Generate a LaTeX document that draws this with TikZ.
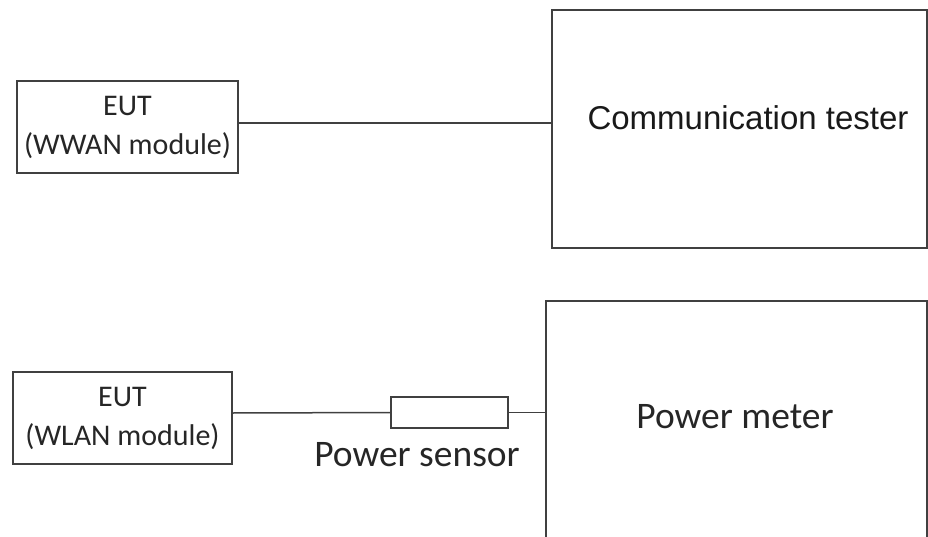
\documentclass[tikz,border=0pt]{standalone}
\usepackage{fontspec}
\setmainfont{Carlito}
\newfontfamily\testerfont{Liberation Sans}
\usepackage{tikz}

\begin{document}
\begin{tikzpicture}[x=1pt,y=-1pt,
  box/.style={draw=black!75,line width=1.8pt,inner sep=0pt},
  wire/.style={draw=black!75,line width=1.5pt},
  small/.style={font=\fontsize{30}{39}\selectfont,align=center,text=black!85},
  large/.style={font=\fontsize{37.5}{44}\selectfont,text=black!85},
  arial/.style={font=\testerfont\fontsize{33}{38}\selectfont,text=black!90}]
\useasboundingbox (0,0) rectangle (928,537);

\node[box,minimum width=221,minimum height=92,small] (eutwwan) at (127.5,127) {EUT\\(WWAN module)};
\node[box,minimum width=375,minimum height=238] (tester) at (739.5,129) {};
\node[arial] (testerlbl) at (748,118) {Communication tester};

\node[box,minimum width=219,minimum height=92,small] (eutwlan) at (122.5,418) {EUT\\(WLAN module)};
\node[box,minimum width=117,minimum height=31] (sensor) at (449.5,412.5) {};
\node[box,minimum width=381,minimum height=270] (meter) at (736.5,436) {};
\node[large] (meterlbl) at (735,417) {Power meter};
\node[large] (sensorlbl) at (417,455) {Power sensor};

\draw[wire] ([yshift=4pt]eutwwan.east) -- ([yshift=4pt]eutwwan.east -| tester.west);
\draw[wire] ([yshift=5pt]eutwlan.east) -- (sensor.west);
\draw[wire] (sensor.east) -- (sensor.east -| meter.west);

\end{tikzpicture}
\end{document}
